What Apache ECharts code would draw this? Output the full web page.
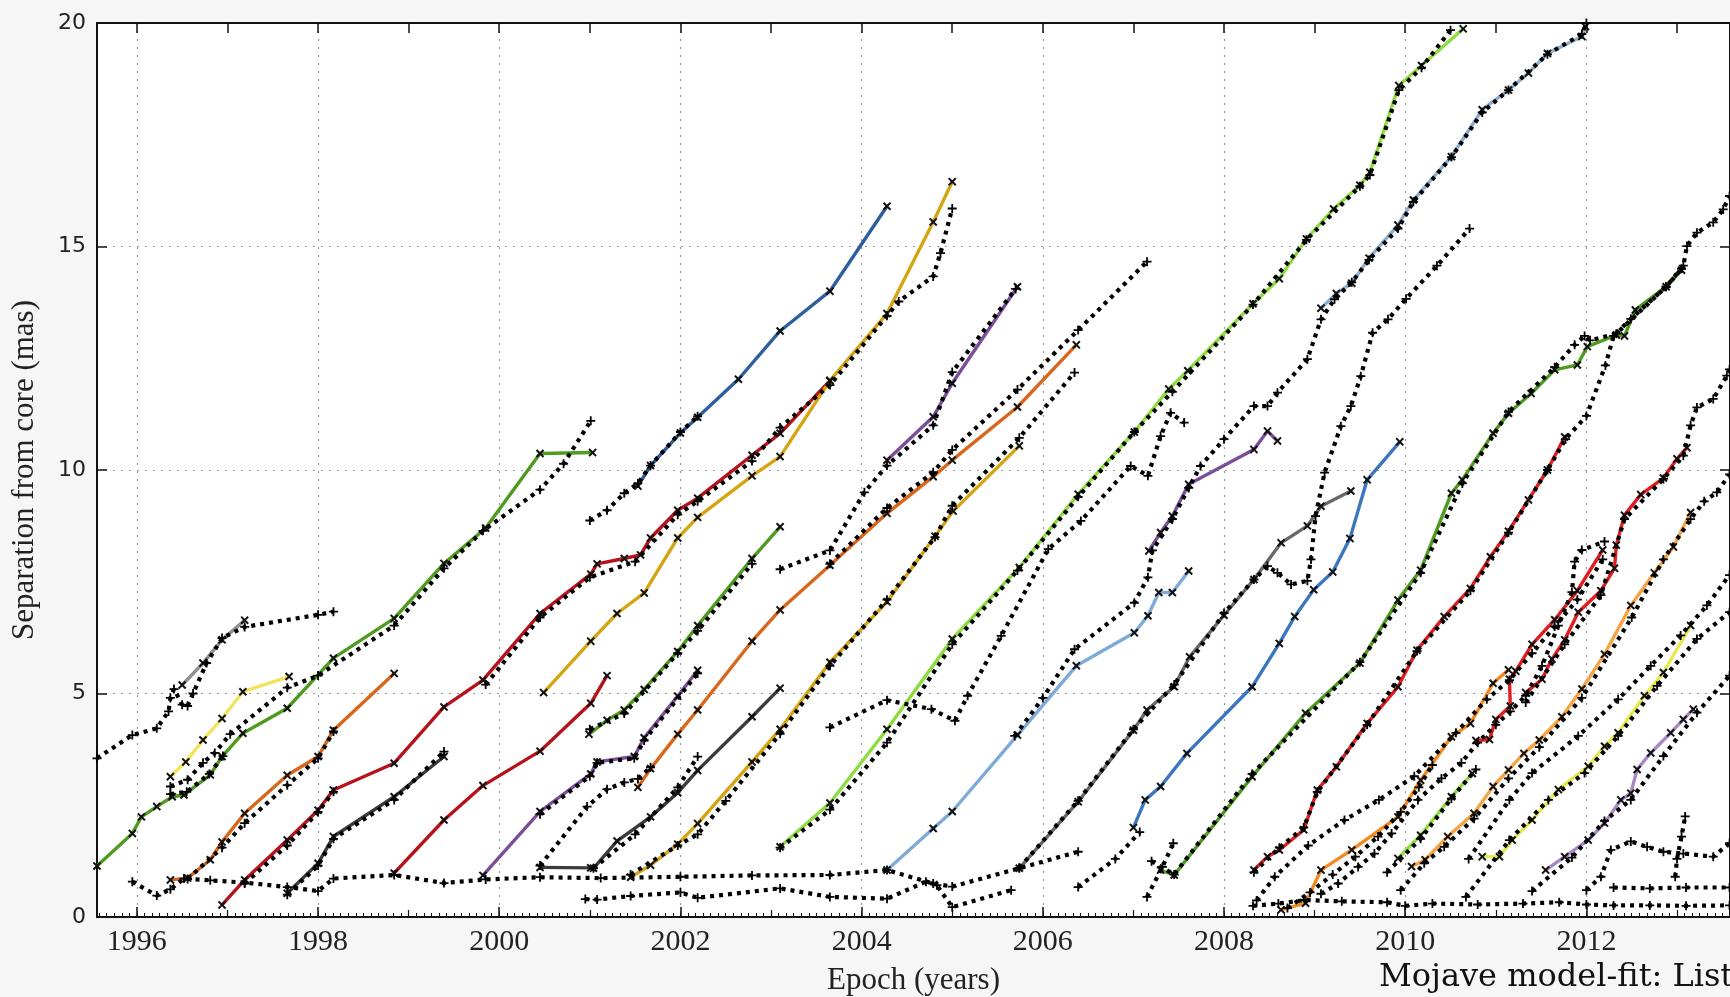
<!DOCTYPE html>
<html>
<head>
<meta charset="utf-8">
<title>Mojave model-fit</title>
<script src="https://cdn.jsdelivr.net/npm/echarts@6/dist/echarts.min.js"></script>
<style>
html,body{margin:0;padding:0;background:#f6f6f6;}
#chart{width:1730px;height:997px;}
</style>
</head>
<body>
<div id="chart"></div>
<script>
// ---- axis ranges and tick labels ----
const X_MIN = 1995.56, X_MAX = 2013.585;
const yearLabels = [1996, 1998, 2000, 2002, 2004, 2006, 2008, 2010, 2012];
const oddYears = [1997, 1999, 2001, 2003, 2005, 2007, 2009, 2011, 2013];
const sepTicks = [0, 5, 10, 15, 20];

// ---- component tracks: [epoch (yr), separation (mas)] ----
const grayA = [[1996.50,5.19],[1996.73,5.68],[1996.94,6.20],[1997.19,6.64]];
const yellowB = [[1996.37,3.14],[1996.54,3.47],[1996.73,3.96],[1996.94,4.44],[1997.17,5.04],[1997.68,5.38]];
const greenC = [[1995.56,1.14],[1995.95,1.87],[1996.05,2.24],[1996.22,2.47],[1996.39,2.69],[1996.52,2.73],[1996.81,3.18],[1996.94,3.59],[1997.17,4.11],[1997.66,4.67],[1998.17,5.79],[1998.84,6.68],[1999.39,7.91],[1999.85,8.70],[2000.45,10.37],[2001.03,10.39]];
const orangeD = [[1996.37,0.83],[1996.56,0.87],[1996.81,1.28],[1996.94,1.68],[1997.19,2.32],[1997.66,3.17],[1998.0,3.59],[1998.17,4.18],[1998.84,5.45]];
const redE = [[1996.94,0.27],[1997.19,0.83],[1997.66,1.72],[1998.0,2.39],[1998.17,2.84],[1998.84,3.44],[1999.39,4.70],[1999.82,5.30],[2000.45,6.79],[2001.01,7.67],[2001.08,7.90],[2001.38,8.02],[2001.56,8.10],[2001.67,8.48],[2001.97,9.10],[2002.19,9.37],[2002.79,10.33],[2003.10,10.82],[2003.65,12.0]];
const redF = [[1998.84,0.98],[1999.39,2.17],[1999.82,2.94],[2000.45,3.71],[2001.01,4.78],[2001.19,5.40]];
const charcoalG = [[1997.66,0.53],[1998.0,1.20],[1998.17,1.80],[1998.84,2.69],[1999.39,3.59]];
const purpleH = [[1999.82,0.93],[2000.45,2.36],[2001.01,3.20],[2001.08,3.47],[2001.49,3.59],[2001.60,4.01],[2001.97,4.94],[2002.19,5.52]];
const charcoalI = [[2000.45,1.11],[2001.01,1.10]];
const goldJ = [[2000.49,5.02],[2001.01,6.17],[2001.30,6.79],[2001.60,7.25],[2001.97,8.48],[2002.19,8.94],[2002.79,9.87],[2003.10,10.30],[2003.65,12.0],[2004.28,13.50],[2004.79,15.55],[2005.0,16.45]];
const blueK = [[2001.53,9.64],[2001.67,10.10],[2002.0,10.83],[2002.19,11.18],[2002.64,12.03],[2003.10,13.11],[2003.65,14.0],[2004.28,15.9]];
const greenL = [[2000.99,4.09],[2001.19,4.40],[2001.38,4.63],[2001.60,5.09],[2001.97,5.94],[2002.19,6.52],[2002.79,8.02],[2003.10,8.73]];
const orangeM = [[2001.53,2.90],[2001.67,3.32],[2001.97,4.09],[2002.19,4.63],[2002.79,6.17],[2003.10,6.87],[2003.65,7.87],[2004.28,9.03],[2004.79,9.85],[2005.0,10.22],[2005.72,11.41],[2006.37,12.80]];
const charcoalN = [[2001.04,1.09],[2001.30,1.70],[2001.67,2.24],[2001.97,2.78],[2002.19,3.28],[2002.79,4.48],[2003.10,5.12]];
const goldO = [[2001.45,0.89],[2001.67,1.16],[2001.97,1.63],[2002.19,2.09],[2002.79,3.47],[2003.10,4.20],[2003.65,5.70],[2004.28,7.05],[2004.81,8.52],[2005.01,9.08],[2005.74,10.54]];
const lightGreenQ = [[2003.10,1.57],[2003.65,2.55],[2004.28,4.20],[2005.0,6.22],[2005.74,7.82],[2006.39,9.46],[2007.01,10.85],[2007.39,11.81],[2007.60,12.22],[2008.32,13.72],[2008.61,14.28],[2008.91,15.17],[2009.21,15.84],[2009.50,16.37],[2009.61,16.66],[2009.93,18.60],[2010.18,19.05],[2010.64,19.87]];
const purpleR = [[2004.28,10.22],[2004.79,11.19],[2005.0,11.94],[2005.72,14.10]];
const lightBlueU = [[2004.28,1.05],[2004.79,1.98],[2005.0,2.36],[2005.72,4.07],[2006.37,5.62],[2007.01,6.36],[2007.16,6.74],[2007.28,7.26],[2007.43,7.26],[2007.61,7.74]];
const grayV = [[2005.74,1.09],[2006.39,2.58],[2007.0,4.18],[2007.15,4.63],[2007.45,5.15],[2007.62,5.82],[2008.0,6.75],[2008.33,7.55],[2008.63,8.37],[2008.92,8.75],[2009.07,9.19],[2009.40,9.53]];
const purpleW = [[2007.17,8.19],[2007.30,8.60],[2007.43,8.97],[2007.61,9.68],[2008.33,10.46],[2008.48,10.87],[2008.59,10.65]];
const blueX = [[2007.0,2.0],[2007.13,2.62],[2007.30,2.92],[2007.59,3.66],[2008.31,5.15],[2008.61,6.12],[2008.78,6.72],[2008.99,7.32],[2009.20,7.72],[2009.39,8.47],[2009.58,9.78],[2009.94,10.63]];
const greenY = [[2007.30,1.05],[2007.45,0.94],[2008.31,3.14],[2008.90,4.56],[2009.50,5.68],[2009.92,7.09],[2010.17,7.76],[2010.51,9.48],[2010.63,9.78],[2010.97,10.82],[2011.14,11.27],[2011.39,11.71],[2011.65,12.24],[2011.90,12.35],[2012.01,12.76],[2012.33,13.02],[2012.42,13.0],[2012.54,13.58],[2012.88,14.10],[2013.05,14.47]];
const steelZ = [[2009.07,13.62],[2009.24,13.95],[2009.41,14.18],[2009.60,14.74],[2009.92,15.48],[2010.09,16.04],[2010.51,17.01],[2010.85,18.06],[2011.14,18.50],[2011.36,18.88],[2011.57,19.32],[2011.95,19.70],[2011.99,19.92]];
const redAA = [[2008.33,1.05],[2008.48,1.35],[2008.61,1.50],[2008.88,1.95],[2009.03,2.84],[2009.24,3.36],[2009.58,4.33],[2009.92,5.15],[2010.13,5.97],[2010.43,6.72],[2010.72,7.35],[2010.94,8.06],[2011.14,8.63],[2011.36,9.33],[2011.57,10.0],[2011.76,10.74]];
const orangeAB = [[2008.63,0.16],[2008.90,0.31],[2009.07,1.05],[2009.41,1.50],[2009.92,2.24],[2010.17,3.06],[2010.51,4.03],[2010.72,4.33],[2010.97,5.23],[2011.14,5.53]];
const redAC = [[2010.78,3.95],[2010.93,3.97],[2011.0,4.42],[2011.16,4.72],[2011.15,5.32],[2011.22,5.50],[2011.40,6.10],[2011.65,6.65],[2011.90,7.30],[2012.18,8.21]];
const redAH = [[2011.33,5.02],[2011.51,5.32],[2011.62,5.77],[2011.76,6.20],[2011.91,6.82],[2012.16,7.30],[2012.31,7.80],[2012.33,8.32],[2012.42,8.99],[2012.60,9.45],[2012.85,9.82],[2013.0,10.25],[2013.11,10.50]];
const lightGreenAD = [[2009.92,1.31],[2010.17,1.83],[2010.51,2.69],[2010.74,3.21]];
const orangeAE = [[2010.07,1.13],[2010.22,1.28],[2010.47,1.80],[2010.76,2.32],[2010.97,2.92],[2011.14,3.29],[2011.31,3.66],[2011.48,3.96],[2011.73,4.48],[2011.95,5.10],[2012.20,5.88],[2012.49,6.97],[2012.75,7.70],[2012.96,8.28],[2013.15,9.05]];
const yellowAF = [[2010.85,1.35],[2011.04,1.35],[2011.18,1.72],[2011.40,2.17],[2011.69,2.85],[2012.02,3.37],[2012.20,3.82],[2012.35,4.12],[2012.64,4.95],[2012.85,5.47],[2013.15,6.52]];
const purpleAG = [[2011.55,1.05],[2011.76,1.35],[2012.02,1.72],[2012.20,2.10],[2012.38,2.62],[2012.49,2.77],[2012.56,3.30],[2012.71,3.67],[2012.93,4.12],[2013.07,4.42],[2013.18,4.65]];

// ---- model-fit paths (dotted black) ----
const fit01 = [[1995.56,3.55],[1995.95,4.07],[1996.22,4.22],[1996.35,4.60],[1996.37,4.90],[1996.41,5.10],[1996.50,4.75],[1996.56,4.72],[1996.62,5.00],[1996.77,5.68],[1996.94,6.24],[1997.19,6.49],[1998.0,6.76],[1998.17,6.83]];
const fit02 = [[1996.37,2.92],[1996.56,3.07],[1996.73,3.45],[1996.86,3.67],[1997.03,4.09],[1997.66,5.13],[1998.0,5.40],[1998.84,6.52],[1999.39,7.80],[1999.82,8.64],[2000.45,9.56],[2000.71,10.14],[2001.01,11.10]];
const fit03 = [[1996.37,2.75],[1996.55,2.80],[1996.80,3.20],[1996.95,3.60]];
const fit04 = [[1996.56,0.85],[1996.94,1.55],[1997.19,2.10],[1997.66,2.95],[1998.0,3.55],[1998.17,4.15]];
const fit05 = [[1997.19,0.75],[1997.66,1.60],[1998.0,2.35],[1998.17,2.80]];
const fit06 = [[1997.66,0.50],[1998.0,1.15],[1998.17,1.75],[1998.84,2.62],[1999.39,3.70]];
const fit07 = [[1995.95,0.79],[1996.22,0.48],[1996.37,0.62],[1996.52,0.86],[1996.81,0.82],[1997.19,0.77],[1997.66,0.67],[1998.0,0.58],[1998.17,0.86],[1998.84,0.94],[1999.39,0.76],[1999.85,0.84],[2000.45,0.89],[2001.12,0.87],[2002.0,0.90],[2002.79,0.93],[2003.65,0.94],[2004.28,1.05],[2004.79,0.75],[2005.0,0.68],[2005.74,1.09],[2006.39,1.46]];
const fit08 = [[2000.95,0.40],[2001.08,0.39],[2001.45,0.47],[2002.0,0.55],[2002.19,0.43],[2003.10,0.64],[2003.65,0.45],[2004.28,0.41],[2004.71,0.79],[2004.83,0.71],[2005.0,0.22],[2005.65,0.60]];
const fit09 = [[2000.45,1.15],[2000.97,2.47],[2001.19,2.86],[2001.38,3.01],[2001.53,3.09],[2001.67,3.35]];
const fit10 = [[2001.0,8.87],[2001.19,9.10],[2001.38,9.48],[2001.53,9.70],[2001.67,10.10],[2002.0,10.85],[2002.19,11.20]];
const fit11 = [[1999.85,5.20],[2000.45,6.70],[2001.0,7.60],[2001.50,7.95],[2001.97,9.0],[2002.19,9.30],[2002.79,10.20],[2003.10,10.95],[2003.65,11.90],[2004.28,13.45],[2004.41,13.77],[2004.79,14.33],[2004.87,14.85],[2005.0,15.85]];
const fit13 = [[2001.0,4.20],[2001.38,4.55],[2001.97,5.90],[2002.19,6.40],[2002.79,7.90]];
const fit14 = [[2000.45,2.30],[2001.0,3.15],[2001.08,3.45],[2001.49,3.55],[2001.60,3.95],[2002.19,5.45]];
const fit15 = [[2001.04,1.09],[2001.50,1.85],[2001.97,2.90],[2002.19,3.59]];
const fit17 = [[2001.45,0.95],[2001.97,1.60],[2002.19,1.85],[2002.50,2.60],[2003.10,4.10],[2003.65,5.62],[2004.28,7.10],[2004.81,8.50],[2005.0,9.20],[2005.74,10.72],[2006.35,12.18]];
const fit18 = [[2003.65,7.90],[2004.28,9.15],[2004.79,9.95],[2005.0,10.45],[2005.72,11.80],[2006.39,13.13],[2007.15,14.66]];
const fit19 = [[2003.10,7.78],[2003.65,8.20],[2004.03,9.50],[2004.28,10.10],[2004.79,11.0],[2005.0,12.19],[2005.70,14.05]];
const fit20 = [[2003.65,4.24],[2004.28,4.85],[2004.77,4.65],[2005.03,4.39],[2005.17,4.95],[2005.54,6.29],[2006.06,8.23],[2006.42,8.86],[2006.97,10.09],[2007.16,9.87],[2007.30,10.76],[2007.41,11.28],[2007.56,11.06]];
const fit21 = [[2005.69,4.05],[2006.0,4.90],[2006.35,5.99],[2007.01,7.03],[2007.16,7.60],[2007.21,8.20],[2007.43,8.90],[2007.61,9.60],[2007.74,10.09],[2008.0,10.69],[2008.33,11.43],[2008.48,11.43],[2008.59,11.73],[2008.92,12.48],[2009.07,13.37],[2009.22,13.82],[2009.41,14.20],[2009.60,14.70],[2009.92,15.40],[2010.09,16.0],[2010.51,17.0],[2010.85,18.0],[2011.14,18.50],[2011.57,19.30],[2011.95,19.75],[2012.0,20.0]];
const fit22 = [[2006.39,0.67],[2006.80,1.30],[2007.07,1.90]];
const fit23 = [[2007.15,0.45],[2007.32,1.12],[2007.44,1.65]];
const fit24 = [[2003.10,1.55],[2003.65,2.40],[2004.28,3.90],[2005.0,6.10],[2005.72,7.75],[2006.39,9.40],[2007.01,10.85],[2007.43,11.75],[2008.32,13.70],[2008.91,15.15],[2009.50,16.35],[2009.61,16.60],[2009.93,18.50],[2010.18,19.0],[2010.50,19.84]];
const fit25 = [[2005.74,1.10],[2006.39,2.60],[2007.0,4.20],[2007.45,5.20],[2008.0,6.80],[2008.33,7.55],[2008.48,7.85],[2008.59,7.70],[2008.74,7.44],[2008.92,7.52],[2008.96,8.0],[2009.01,8.97],[2009.11,9.94],[2009.29,10.98],[2009.40,11.43],[2009.51,12.10],[2009.64,13.07],[2009.81,13.37],[2010.01,13.83],[2010.35,14.57],[2010.71,15.40]];
const fit26 = [[2008.33,1.0],[2008.61,1.55],[2008.88,2.0],[2009.03,2.80],[2009.58,4.30],[2010.13,5.95],[2010.72,7.30],[2011.14,8.60],[2011.57,10.0],[2011.77,10.69],[2012.0,11.21],[2012.21,12.34],[2012.30,13.0],[2012.49,13.38],[2012.88,14.10],[2013.07,14.57],[2013.11,15.01],[2013.22,15.31],[2013.40,15.54],[2013.51,15.83],[2013.58,16.13]];
const fit27 = [[2007.20,1.25],[2007.45,0.95],[2008.31,3.20],[2009.50,5.70],[2010.17,7.70],[2010.63,9.70],[2011.14,11.30],[2011.65,12.30],[2011.87,12.80],[2011.98,13.0],[2012.04,12.90],[2012.33,13.05],[2012.88,14.10],[2013.05,14.50]];
const fit28 = [[2009.07,0.52],[2009.26,0.75],[2009.48,1.12],[2009.66,1.42],[2009.85,1.87],[2010.14,2.62],[2010.40,3.10],[2010.62,3.45],[2010.80,3.90],[2011.0,4.30],[2011.16,4.60],[2011.33,4.95],[2011.51,5.62],[2011.69,6.52],[2011.84,7.27],[2011.87,7.95],[2011.95,8.21],[2012.20,8.40]];
const fit29 = [[2008.36,0.37],[2008.56,0.90],[2008.93,1.60],[2009.33,2.17],[2009.71,2.62],[2010.10,3.15],[2010.56,4.12],[2010.90,4.87],[2011.15,5.30],[2011.40,5.90],[2011.65,6.50],[2011.90,7.10],[2012.18,8.0]];
const fit30 = [[2008.32,0.25],[2008.60,0.30],[2008.90,0.38],[2009.30,0.35],[2009.80,0.33],[2010.0,0.25],[2010.30,0.30],[2010.80,0.28],[2011.30,0.30],[2011.70,0.33],[2012.0,0.28],[2012.30,0.26],[2012.70,0.26],[2013.10,0.25],[2013.58,0.26]];
const fit31 = [[2012.30,0.66],[2012.70,0.64],[2013.10,0.66],[2013.58,0.66]];
const fit32 = [[2011.33,4.80],[2011.76,6.10],[2012.16,7.20],[2012.42,8.90],[2012.85,9.80],[2013.07,10.32],[2013.15,11.0],[2013.22,11.40],[2013.40,11.59],[2013.55,12.11],[2013.58,12.25]];
const fit33 = [[2009.95,0.60],[2010.21,1.20],[2010.43,1.57],[2010.76,2.20],[2011.14,3.10],[2011.48,3.80],[2011.95,4.90],[2012.50,6.70],[2012.85,8.0],[2013.15,8.90],[2013.30,9.30],[2013.44,9.50],[2013.58,9.90]];
const fit34 = [[2010.70,1.30],[2011.15,2.62],[2011.40,3.22],[2011.91,4.05],[2012.35,4.87],[2012.71,5.62],[2013.04,6.30],[2013.33,6.97],[2013.58,7.65]];
const fit35 = [[2010.67,0.45],[2011.15,1.72],[2011.58,2.62],[2011.98,3.22],[2012.35,4.05],[2012.78,5.17],[2013.22,6.22],[2013.58,6.82]];
const fit36 = [[2011.40,0.58],[2011.84,1.33],[2012.20,2.15],[2012.49,2.62],[2012.85,3.60],[2013.22,4.57],[2013.58,5.40]];
const fit37 = [[2012.0,0.60],[2012.16,0.90],[2012.27,1.50],[2012.49,1.69],[2012.67,1.57],[2012.85,1.46],[2013.07,1.42],[2013.40,1.35],[2013.58,1.65]];
const fit38 = [[2012.98,0.90],[2013.0,1.30],[2013.05,1.80],[2013.09,2.25]];
const fit40 = [[2008.70,0.20],[2008.95,0.55],[2009.20,0.95],[2009.45,1.35],[2009.70,1.80],[2009.95,2.35],[2010.15,2.90],[2010.30,3.40]];
const fit41 = [[2009.80,1.0],[2010.17,1.75],[2010.51,2.65],[2010.78,3.30]];

// ---- line colours ----
const C = {
  dkGreen: '#4f9b1f', ltGreen: '#8fdc40', dkRed: '#b5121b', red: '#e01e20',
  dkOrange: '#d8671b', orange: '#f28b1f', ltOrange: '#f6a546', gold: '#d5a412',
  yellow: '#f1e35b', yellow2: '#e6e84f', gray: '#8f8f8f', midGray: '#696969',
  charcoal: '#3b3b3b', purple: '#7b4f98', ltPurple: '#a688c4', dkBlue: '#2d5e9e',
  blue: '#3c76bd', ltBlue: '#7eaad8', steel: '#8daecf'
};

const tracks = [
  [grayA, C.gray], [yellowB, C.yellow], [greenC, C.dkGreen], [orangeD, C.dkOrange],
  [redE, C.dkRed], [redF, C.dkRed], [charcoalG, C.charcoal], [purpleH, C.purple],
  [charcoalI, C.charcoal], [goldJ, C.gold], [blueK, C.dkBlue], [greenL, C.dkGreen],
  [orangeM, C.dkOrange], [charcoalN, C.charcoal], [goldO, C.gold], [lightGreenQ, C.ltGreen],
  [purpleR, C.purple], [lightBlueU, C.ltBlue], [grayV, C.midGray], [purpleW, C.purple],
  [blueX, C.blue], [greenY, C.dkGreen], [steelZ, C.steel], [redAA, C.red],
  [orangeAB, C.orange], [redAC, C.red], [redAH, C.red], [lightGreenAD, C.ltGreen],
  [orangeAE, C.ltOrange], [yellowAF, C.yellow2], [purpleAG, C.ltPurple]
];
const fits = [fit01, fit02, fit03, fit04, fit05, fit06, fit07, fit08, fit09, fit10, fit11,
  fit13, fit14, fit15, fit17, fit18, fit19, fit20, fit21, fit22, fit23, fit24, fit25, fit26,
  fit27, fit28, fit29, fit30, fit31, fit32, fit33, fit34, fit35, fit36, fit37, fit38, fit40, fit41];

// ---- tick positions ----
const allYears = [];
for (let y = 1996; y <= 2013; y++) allYears.push(y);
const monthTicks = [];
for (let m = 0; m < 12 * 19; m++) {
  const v = +(1995 + m / 12).toFixed(4);
  if (v > X_MIN && v < X_MAX) monthTicks.push(v);
}

const PLUS = 'path://M4,0H6V4H10V6H6V10H4V6H0V4H4Z';
const SERIF = '"Liberation Serif", "DejaVu Serif", serif';

const series = [];
tracks.forEach(([pts, color]) => {
  series.push({
    type: 'line', data: pts, xAxisIndex: 0, yAxisIndex: 0,
    symbol: PLUS, symbolSize: 10, symbolRotate: 45, showSymbol: true,
    itemStyle: { color: '#111' },
    lineStyle: { color: color, width: 3.4 },
    z: 2, silent: true, animation: false
  });
});
fits.forEach(pts => {
  series.push({
    type: 'line', data: pts, xAxisIndex: 0, yAxisIndex: 0,
    symbol: PLUS, symbolSize: 9, showSymbol: true,
    itemStyle: { color: '#000' },
    lineStyle: { color: '#000', width: 4.2, type: [4, 5] },
    z: 3, silent: true, animation: false
  });
});

const gridLine = { show: true, lineStyle: { color: '#9a9a9a', width: 1.2, type: [2, 6] } };
const blackLine = { show: true, lineStyle: { color: '#111', width: 2 } };

const option = {
  backgroundColor: '#f6f6f6',
  animation: false,
  grid: {
    left: 97, right: 0, top: 23, bottom: 80, outerBoundsMode: 'none', containLabel: false,
    show: true, backgroundColor: '#ffffff', borderWidth: 0
  },
  xAxis: [
    {
      type: 'value', position: 'bottom', min: X_MIN, max: X_MAX,
      axisLine: blackLine,
      axisTick: { show: true, inside: true, length: 10, customValues: yearLabels, lineStyle: { color: '#111', width: 1.5 } },
      axisLabel: { customValues: yearLabels, formatter: v => String(Math.round(v)), fontFamily: SERIF, fontSize: 30, color: '#222', margin: 10 },
      splitLine: gridLine,
      name: 'Epoch (years)', nameLocation: 'middle', nameGap: 48,
      nameTextStyle: { fontFamily: SERIF, fontSize: 31, color: '#222' }
    },
    {
      type: 'value', position: 'bottom', min: X_MIN, max: X_MAX,
      axisLine: { show: false },
      axisTick: { show: true, inside: true, length: 4, customValues: monthTicks, lineStyle: { color: '#111', width: 1 } },
      axisLabel: { show: false }, splitLine: { show: false }
    },
    {
      type: 'value', position: 'bottom', min: X_MIN, max: X_MAX,
      axisLine: { show: false },
      axisTick: { show: true, inside: true, length: 7, customValues: oddYears, lineStyle: { color: '#111', width: 1.2 } },
      axisLabel: { show: false }, splitLine: { show: false }
    },
    {
      type: 'value', position: 'top', min: X_MIN, max: X_MAX,
      axisLine: blackLine,
      axisTick: { show: true, inside: true, length: 10, customValues: allYears, lineStyle: { color: '#111', width: 1.5 } },
      axisLabel: { show: false }, splitLine: { show: false }
    }
  ],
  yAxis: [
    {
      type: 'value', position: 'left', min: sepTicks[0], max: sepTicks[sepTicks.length - 1], interval: 5,
      axisLine: blackLine,
      axisTick: { show: true, inside: true, length: 10, lineStyle: { color: '#111', width: 1.5 } },
      axisLabel: { fontFamily: '"DejaVu Sans", sans-serif', fontSize: 22, color: '#222', margin: 11 },
      splitLine: gridLine,
      name: 'Separation from core (mas)', nameLocation: 'middle', nameGap: 57, nameRotate: 90,
      nameTextStyle: { fontFamily: SERIF, fontSize: 31, color: '#222' }
    },
    {
      type: 'value', position: 'right', min: 0, max: 20, interval: 5,
      axisLine: blackLine,
      axisTick: { show: true, inside: true, length: 10, lineStyle: { color: '#111', width: 1.5 } },
      axisLabel: { show: false }, splitLine: { show: false }
    }
  ],
  graphic: [
    {
      type: 'text', left: 1379, top: 962, silent: true,
      style: { text: 'Mojave model-fit: List', font: '32px "DejaVu Serif", serif', fill: '#111' }
    }
  ],
  series: series
};

const chart = echarts.init(document.getElementById('chart'), null, { renderer: 'canvas' });
chart.setOption(option);
</script>
</body>
</html>
